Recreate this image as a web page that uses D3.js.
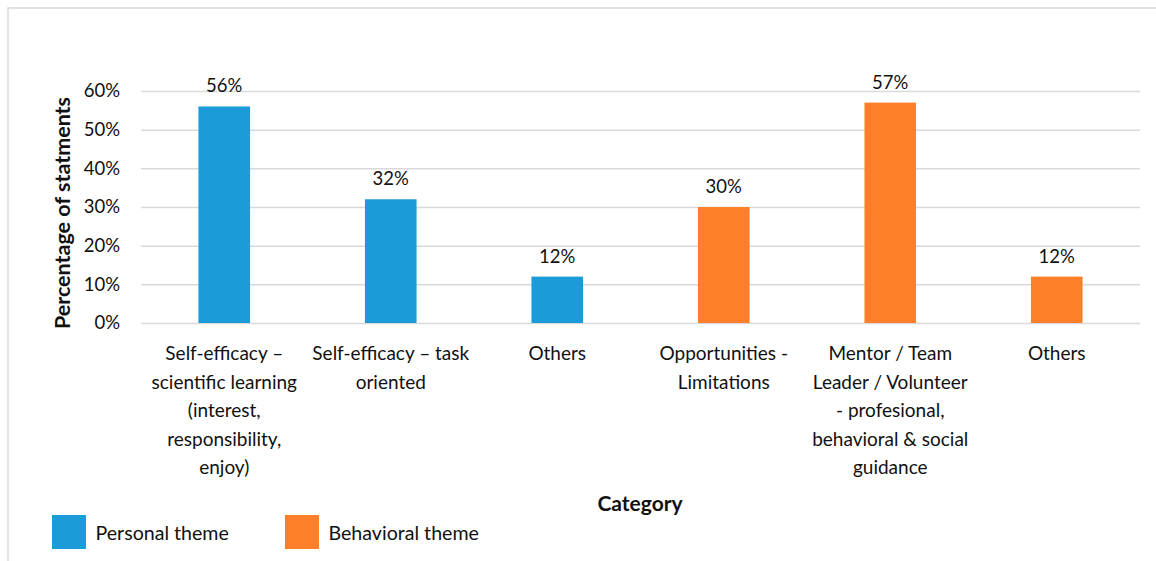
<!DOCTYPE html>
<html>
<head>
<meta charset="utf-8">
<script src="https://cdn.jsdelivr.net/npm/d3@7"></script>
<style>
  html, body { margin: 0; padding: 0; background: #fff; }
  svg { display: block; font-family: Lato, "Open Sans", sans-serif; }
</style>
</head>
<body>
<svg id="chart" width="1156" height="561"></svg>
<script>
// Category labels (one entry per line of the wrapped label)
const categories = [
  ["Self-efficacy \u2013", "scientific learning", "(interest,", "responsibility,", "enjoy)"],
  ["Self-efficacy \u2013 task", "oriented"],
  ["Others"],
  ["Opportunities -", "Limitations"],
  ["Mentor / Team", "Leader / Volunteer", "- profesional,", "behavioral & social", "guidance"],
  ["Others"]
];
// Share of statements per category
const values = [0.56, 0.32, 0.12, 0.30, 0.57, 0.12];
// Theme each category belongs to
const themes = ["Personal theme", "Personal theme", "Personal theme",
                "Behavioral theme", "Behavioral theme", "Behavioral theme"];
const themeNames = ["Personal theme", "Behavioral theme"];
const themeColors = ["#1b9bd7", "#fe7f2a"];
const yTicks = [0, 0.1, 0.2, 0.3, 0.4, 0.5, 0.6];

const svg = d3.select("#chart");
const color = d3.scaleOrdinal().domain(themeNames).range(themeColors);
const ink = "#111";

// outer frame (top and left edges)
svg.append("path")
  .attr("d", "M8,561 V8 H1156")
  .attr("fill", "none").attr("stroke", "#d9d9d9").attr("stroke-width", 1.5);

const plot = { left: 141, right: 1140, top: 91, bottom: 323 };

const x = d3.scaleBand()
  .domain(d3.range(categories.length))
  .range([plot.left, plot.right])
  .paddingInner(0.69).paddingOuter(0.345);

const y = d3.scaleLinear().domain([0, 0.6]).range([plot.bottom, plot.top]);

// gridlines + tick labels
const yAxis = d3.axisLeft(y).tickValues(yTicks).tickFormat(d3.format(".0%"))
  .tickSize(-(plot.right - plot.left)).tickPadding(21);
const gy = svg.append("g").attr("transform", `translate(${plot.left},0)`).call(yAxis);
gy.select(".domain").remove();
gy.selectAll(".tick line").attr("stroke", "#d9d9d9").attr("stroke-width", 1.5);
gy.selectAll(".tick text")
  .attr("fill", ink).style("font-size", "18.5px")
  .style("font-family", "Lato, 'Open Sans', sans-serif");

// bars
svg.append("g").selectAll("rect").data(values).join("rect")
  .attr("x", (d, i) => x(i))
  .attr("y", d => y(d))
  .attr("width", x.bandwidth())
  .attr("height", d => y(0) - y(d))
  .attr("fill", (d, i) => color(themes[i]));

// value labels
svg.append("g").selectAll("text").data(values).join("text")
  .attr("x", (d, i) => x(i) + x.bandwidth() / 2)
  .attr("y", d => y(d) - 14)
  .attr("text-anchor", "middle")
  .attr("fill", ink)
  .style("font-size", "18.5px")
  .text(d => d3.format(".0%")(d));

// category labels
const lineGap = 28.5;
const cat = svg.append("g").selectAll("text").data(categories).join("text")
  .attr("text-anchor", "middle")
  .attr("fill", ink)
  .style("font-size", "19px");
cat.each(function(lines, i) {
  const t = d3.select(this);
  lines.forEach((ln, k) => {
    t.append("tspan")
      .attr("x", x(i) + x.bandwidth() / 2)
      .attr("y", 360 + k * lineGap)
      .text(ln);
  });
});

// axis titles
svg.append("text")
  .attr("transform", `translate(70,213) rotate(-90)`)
  .attr("text-anchor", "middle")
  .attr("fill", ink)
  .style("font-size", "21.5px").style("font-weight", "bold")
  .text("Percentage of statments");

svg.append("text")
  .attr("x", 640).attr("y", 511)
  .attr("text-anchor", "middle")
  .attr("fill", ink)
  .style("font-size", "21px").style("font-weight", "bold")
  .text("Category");

// legend
const legendX = [52, 285];
const lg = svg.append("g").selectAll("g").data(themeNames).join("g")
  .attr("transform", (d, i) => `translate(${legendX[i]},515)`);
lg.append("rect").attr("width", 34).attr("height", 34).attr("fill", d => color(d));
lg.append("text")
  .attr("x", 43.5).attr("y", 25)
  .attr("fill", ink)
  .style("font-size", "19.6px")
  .text(d => d);
</script>
</body>
</html>
